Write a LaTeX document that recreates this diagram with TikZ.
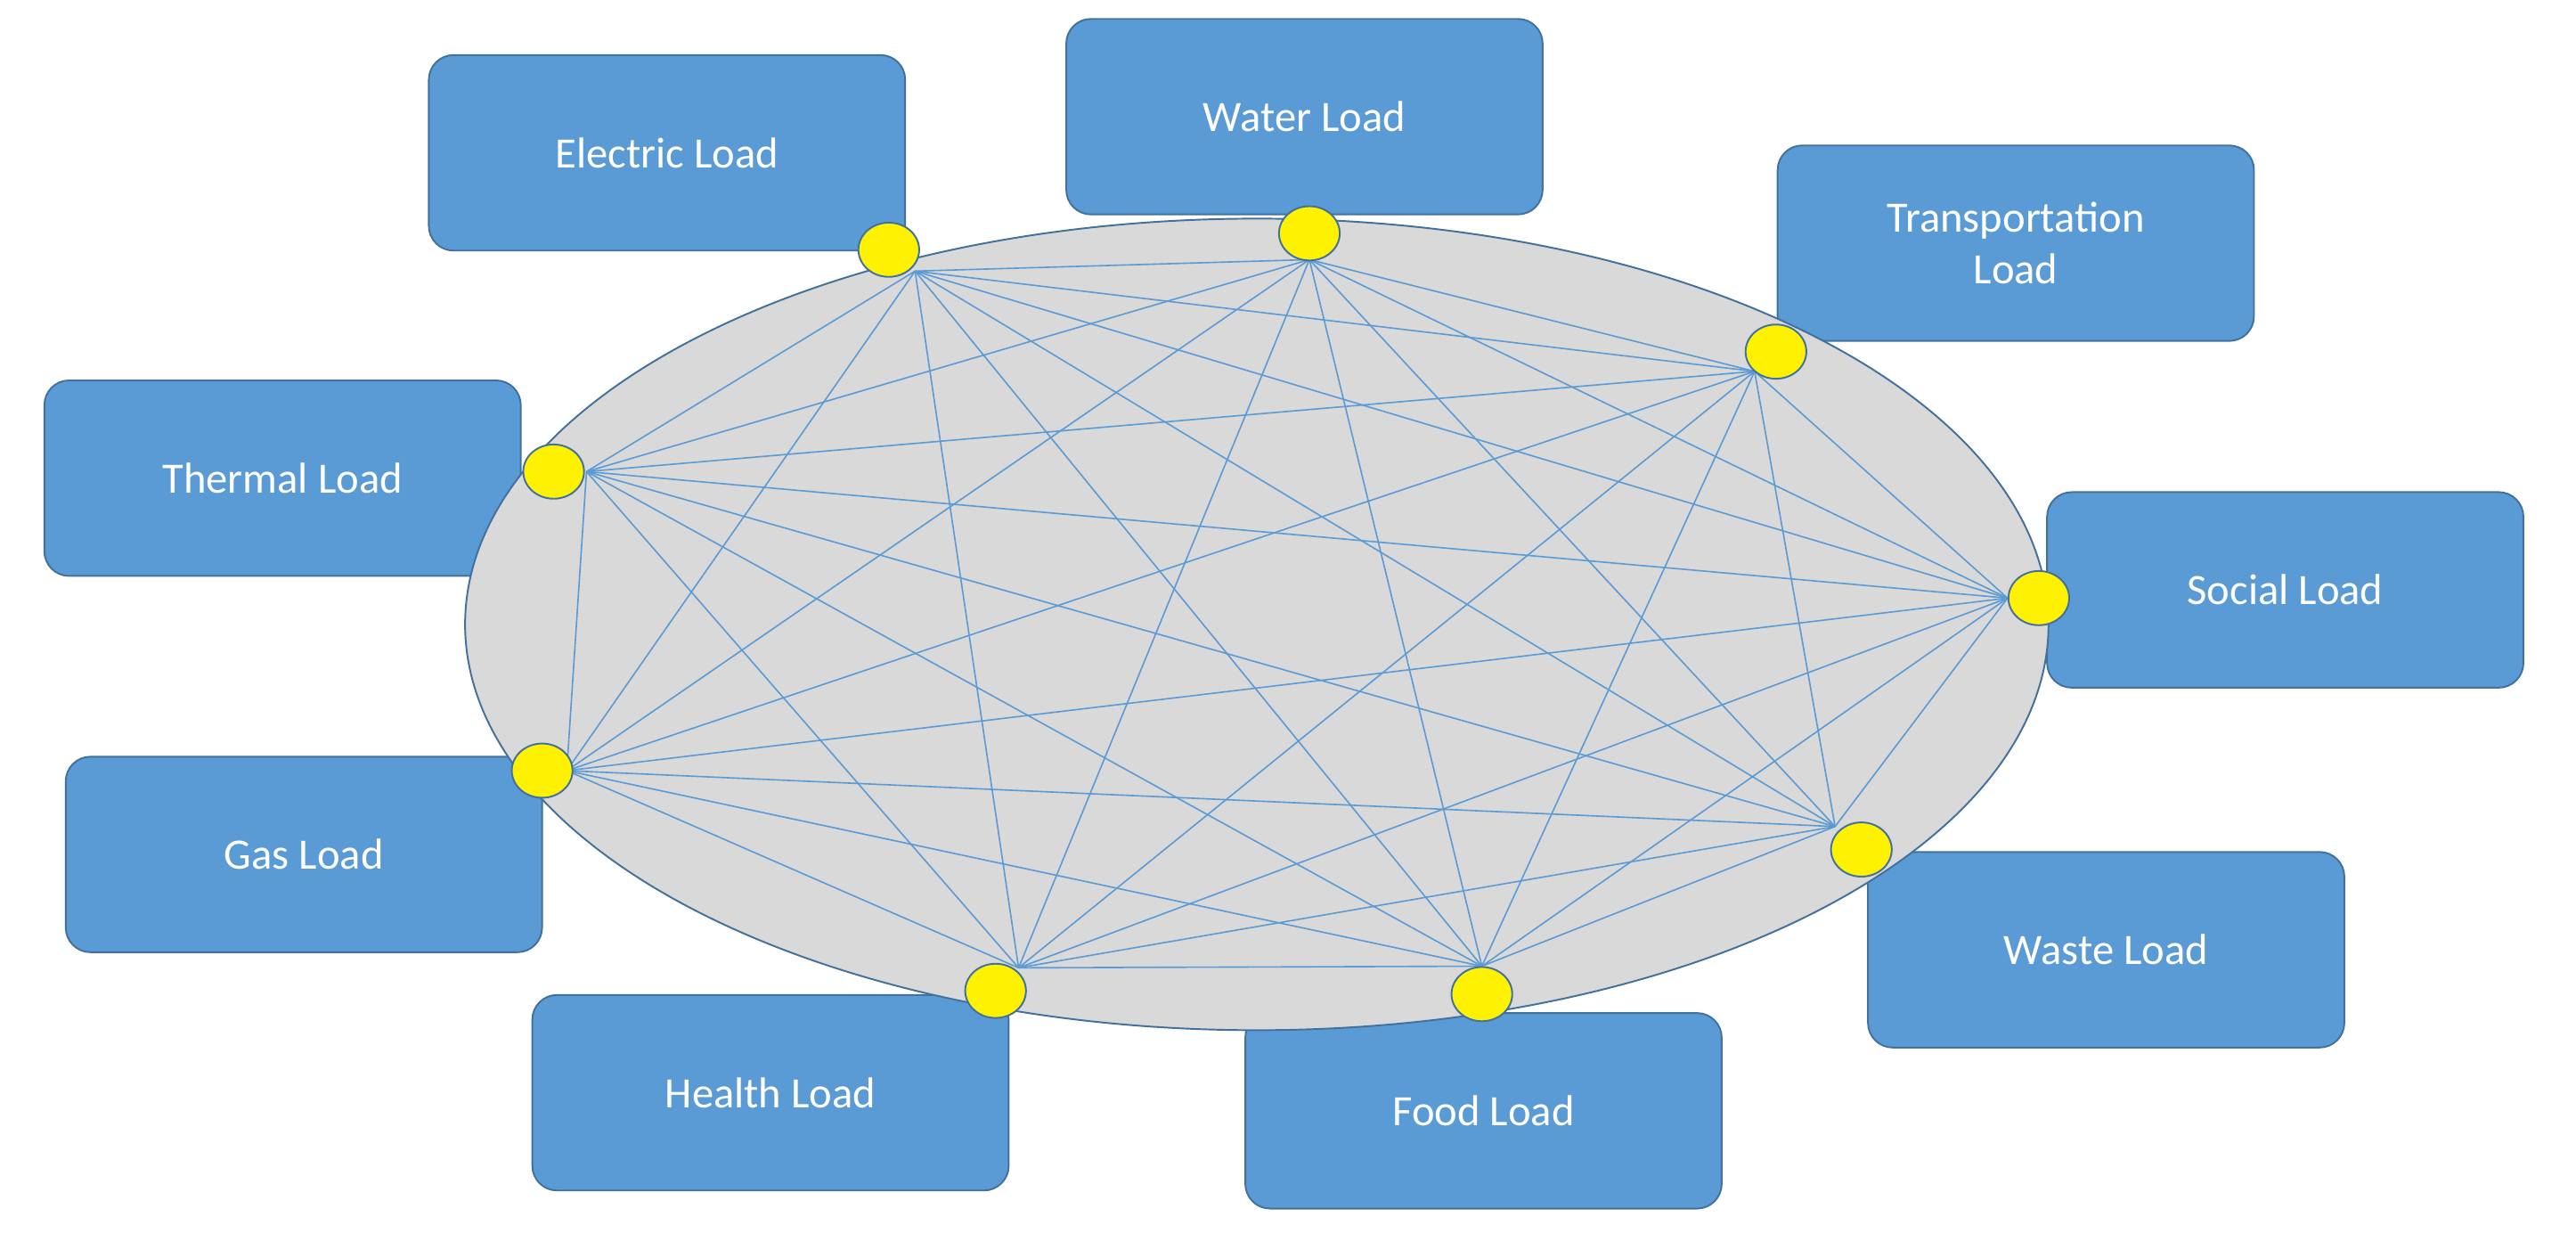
\documentclass[tikz,border=0pt]{standalone}
\usepackage{fontspec}
\setmainfont{Carlito}
\usetikzlibrary{shapes.geometric}
\definecolor{boxfill}{HTML}{5B9BD5}
\definecolor{boxline}{HTML}{41719C}
\definecolor{ellfill}{HTML}{D9D9D9}
\begin{document}
\begin{tikzpicture}[x=0.02cm,y=-0.02cm,
  box/.style={draw=boxline,fill=boxfill,rounded corners=0.3cm,minimum width=5.8cm,minimum height=2.38cm,text=white,font=\fontsize{15}{18}\selectfont,align=center,line width=0.6pt},
  dot/.style={ellipse,draw=boxline,fill=yellow,minimum width=0.74cm,minimum height=0.66cm,inner sep=0pt,line width=0.6pt},
  link/.style={draw=boxfill,line width=0.5pt}]
\useasboundingbox (0,0) rectangle (1568,750);
\node[box] (electric) at (406,93) {Electric Load};
\node[box] (water) at (794,71) {Water Load};
\node[box] (transport) at (1227,148) {Transportation\\Load};
\node[box] (thermal) at (172,291) {Thermal Load};
\node[box] (social) at (1391,359) {Social Load};
\node[box] (gas) at (185,520) {Gas Load};
\node[box] (waste) at (1282,578) {Waste Load};
\node[box] (health) at (469,665) {Health Load};
\node[box] (food) at (903,676) {Food Load};
\node[ellipse,draw=boxline,fill=ellfill,minimum width=19.28cm,minimum height=9.88cm,line width=0.6pt] (ell) at (765,380) {};
\coordinate (h1) at (557,165);
\coordinate (h2) at (797,158);
\coordinate (h3) at (1068,226);
\coordinate (h4) at (1222,364);
\coordinate (h5) at (1117,503);
\coordinate (h6) at (902,588);
\coordinate (h7) at (620,589);
\coordinate (h8) at (345,469);
\coordinate (h9) at (357,287);
\foreach \i in {1,...,9}{\foreach \j in {1,...,9}{\ifnum\i<\j \draw[link] (h\i) -- (h\j);\fi}}
\node[dot] (d1) at (541,152) {};
\node[dot] (d2) at (797,142) {};
\node[dot] (d3) at (1081,214) {};
\node[dot] (d4) at (1241,364) {};
\node[dot] (d5) at (1133,517) {};
\node[dot] (d6) at (902,605) {};
\node[dot] (d7) at (606,603) {};
\node[dot] (d8) at (330,469) {};
\node[dot] (d9) at (337,287) {};
\end{tikzpicture}
\end{document}
